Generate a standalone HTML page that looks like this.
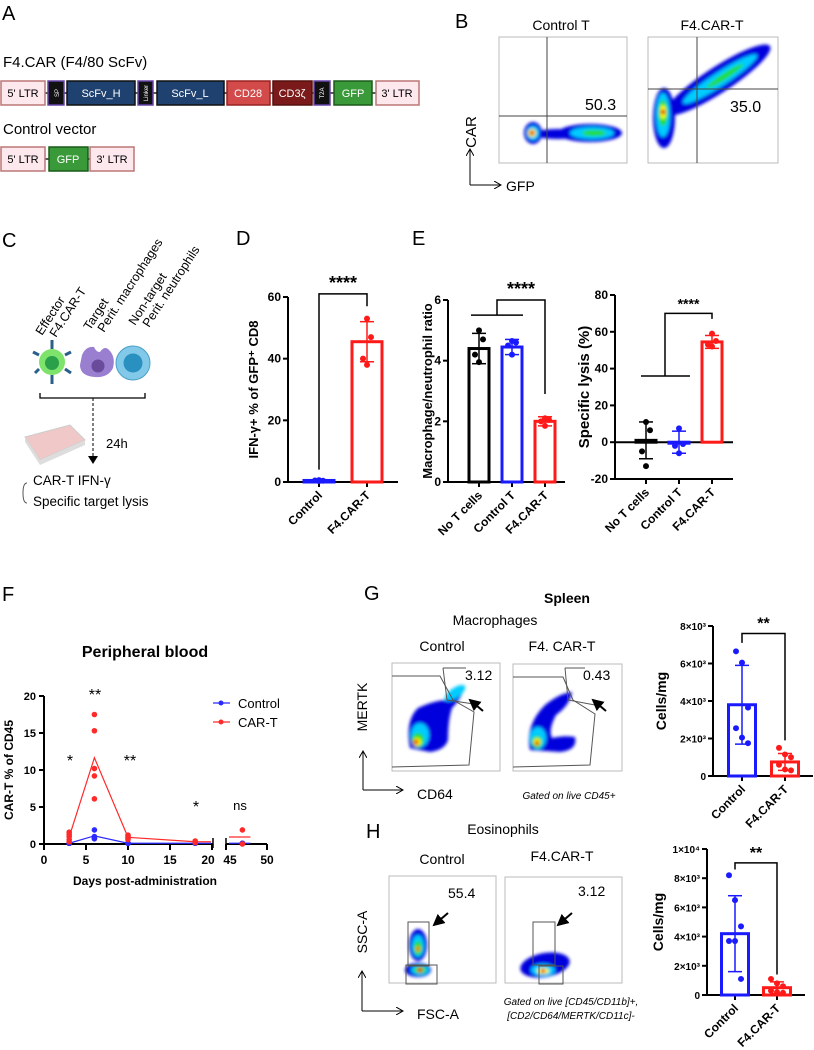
<!DOCTYPE html>
<html><head><meta charset="utf-8"><style>
body{margin:0;background:#fff;}
svg{display:block;font-family:"Liberation Sans",sans-serif;}
.b{font-weight:bold}
</style></head><body>
<svg id="fig" width="814" height="1050" viewBox="0 0 814 1050" xmlns="http://www.w3.org/2000/svg">
<defs>
<filter id="bl" x="-30%" y="-30%" width="160%" height="160%"><feGaussianBlur stdDeviation="1.5"/></filter>
<marker id="ah" markerWidth="8" markerHeight="8" refX="6" refY="4" orient="auto"><path d="M0,0 L7,4 L0,8" fill="none" stroke="#000"/></marker>
<marker id="ahf" markerWidth="6" markerHeight="6" refX="5" refY="3" orient="auto"><path d="M0,0 L6,3 L0,6z" fill="#000"/></marker>
</defs>

<!-- Panel A -->
<g>
<text x="2" y="20" font-size="20">A</text>
<text x="3" y="67" font-size="15">F4.CAR (F4/80 ScFv)</text>
<line x1="2" y1="93" x2="418" y2="93" stroke="#222" stroke-width="1.5"/>
<g font-size="11" text-anchor="middle">
<rect x="1" y="81" width="44" height="24" fill="#fde8ee" stroke="#b77" stroke-width="1.5"/><text x="23" y="97">5' LTR</text>
<rect x="48" y="81" width="16" height="24" fill="#111" stroke="#64a" stroke-width="1.5"/><text x="56" y="96" fill="#fff" font-size="6" transform="rotate(-90 56 93)">SP</text>
<rect x="67" y="81" width="68" height="24" fill="#1f4170" stroke="#111" stroke-width="1.5"/><text x="101" y="97" fill="#fff">ScFv_H</text>
<rect x="138" y="81" width="15" height="24" fill="#111" stroke="#64a" stroke-width="1.5"/><text x="146" y="95" fill="#fff" font-size="6" transform="rotate(-90 146 93)">Linker</text>
<rect x="157" y="81" width="67" height="24" fill="#1f4170" stroke="#111" stroke-width="1.5"/><text x="190" y="97" fill="#fff">ScFv_L</text>
<rect x="227" y="81" width="43" height="24" fill="#d24a4a" stroke="#922" stroke-width="1.5"/><text x="248" y="97" fill="#fff">CD28</text>
<rect x="273" y="81" width="39" height="24" fill="#7a1a1a" stroke="#511" stroke-width="1.5"/><text x="292" y="97" fill="#fff">CD3ζ</text>
<rect x="314" y="81" width="16" height="24" fill="#111" stroke="#64a" stroke-width="1.5"/><text x="322" y="95" fill="#fff" font-size="6" transform="rotate(-90 322 93)">T2A</text>
<rect x="334" y="81" width="38" height="24" fill="#3a9a3a" stroke="#1a5a1a" stroke-width="1.5"/><text x="353" y="97" fill="#fff">GFP</text>
<rect x="376" y="81" width="43" height="24" fill="#fde8ee" stroke="#b77" stroke-width="1.5"/><text x="397" y="97">3' LTR</text>
</g>
<text x="3" y="134" font-size="15">Control vector</text>
<line x1="2" y1="159" x2="133" y2="159" stroke="#222" stroke-width="1.5"/>
<g font-size="11" text-anchor="middle">
<rect x="1" y="147" width="44" height="24" fill="#fde8ee" stroke="#b77" stroke-width="1.5"/><text x="23" y="163">5' LTR</text>
<rect x="49" y="147" width="39" height="24" fill="#3a9a3a" stroke="#1a5a1a" stroke-width="1.5"/><text x="68" y="163" fill="#fff">GFP</text>
<rect x="90" y="147" width="44" height="24" fill="#fde8ee" stroke="#b77" stroke-width="1.5"/><text x="112" y="163">3' LTR</text>
</g>
</g>

<!-- Panel B -->
<g>
<text x="455" y="28" font-size="20">B</text>
<text x="561" y="30" font-size="14" text-anchor="middle">Control T</text>
<text x="712" y="30" font-size="14" text-anchor="middle">F4.CAR-T</text>
<rect x="499" y="37" width="128" height="126" fill="#fff" stroke="#bbb"/>
<rect x="648" y="37" width="130" height="126" fill="#fff" stroke="#bbb"/>
<g filter="url(#bl)">
<ellipse cx="533" cy="133" rx="9" ry="11" fill="#00d"/><ellipse cx="558" cy="134" rx="25" ry="5" fill="#00d"/><ellipse cx="590" cy="133" rx="32" ry="9" fill="#00d"/>
<ellipse cx="592" cy="133" rx="22" ry="6" fill="#0cf"/><ellipse cx="594" cy="133" rx="12" ry="3" fill="#2d2"/>
<ellipse cx="533" cy="133" rx="6" ry="7" fill="#0cf"/><circle cx="532" cy="133" r="4" fill="#ff0"/><circle cx="532" cy="133" r="2.5" fill="#e00"/>
<ellipse cx="718" cy="80" rx="62" ry="13" fill="#00d" transform="rotate(-33 718 80)"/>
<ellipse cx="664" cy="118" rx="11" ry="30" fill="#00d"/>
<ellipse cx="720" cy="79" rx="44" ry="7" fill="#0cf" transform="rotate(-33 720 79)"/>
<ellipse cx="725" cy="76" rx="22" ry="3" fill="#2d2" transform="rotate(-33 725 76)"/>
<ellipse cx="663" cy="115" rx="7" ry="22" fill="#0cf"/><ellipse cx="663" cy="113" rx="4.5" ry="13" fill="#2d2"/>
<ellipse cx="663" cy="112" rx="3" ry="7" fill="#ff0"/><circle cx="663" cy="112" r="2.5" fill="#e00"/>
</g>
<line x1="547" y1="37" x2="547" y2="163" stroke="#444"/><line x1="499" y1="116" x2="627" y2="116" stroke="#444"/>
<line x1="697" y1="37" x2="697" y2="163" stroke="#444"/><line x1="648" y1="89" x2="778" y2="89" stroke="#444"/>
<text x="585" y="110" font-size="16">50.3</text>
<text x="730" y="112" font-size="16">35.0</text>
<text x="476" y="132" font-size="15" text-anchor="middle" transform="rotate(-90 476 132)">CAR</text>
<path d="M470,185 L500,185" fill="none" stroke="#000" marker-end="url(#ah)"/>
<path d="M470,185 L470,150" fill="none" stroke="#000" marker-end="url(#ah)"/>
<text x="506" y="191" font-size="14">GFP</text>
</g>

<!-- Panel C -->
<g>
<text x="2" y="247" font-size="20">C</text>
<g font-size="12.5">
<text transform="translate(42,336) rotate(-57)">Effector</text>
<text transform="translate(56,338) rotate(-57)">F4.CAR-T</text>
<text transform="translate(90,331) rotate(-57)">Target</text>
<text transform="translate(104,333) rotate(-57)">Perit. macrophages</text>
<text transform="translate(135,326) rotate(-57)">Non-target</text>
<text transform="translate(149,328) rotate(-57)">Perit. neutrophils</text>
</g>
<g>
<g stroke="#2a5f8a" stroke-width="3"><line x1="52" y1="349" x2="52" y2="340"/><line x1="52" y1="375" x2="52" y2="384"/><line x1="39" y1="355" x2="33" y2="352"/><line x1="65" y1="355" x2="71" y2="352"/><line x1="65" y1="369" x2="71" y2="373"/><line x1="39" y1="369" x2="35" y2="373"/></g>
<circle cx="52" cy="362" r="13" fill="#7de36a"/><circle cx="52" cy="363" r="7" fill="#2aa04a"/></g>
<path d="M82,355 Q86,346 94,347 Q96,352 100,352 Q104,346 108,349 Q116,356 113,368 Q108,378 95,377 Q80,376 80,365 Z" fill="#9a7ed0"/>
<circle cx="98" cy="366" r="6.5" fill="#6a4a9a"/>
<circle cx="133" cy="363" r="17" fill="#82c8e8" stroke="#4aa0c8"/><circle cx="133" cy="363" r="9.5" fill="#2a90c0"/>
<path d="M40,393 L40,398 L145,398 L145,393" fill="none" stroke="#000" stroke-width="1.3"/>
<line x1="93" y1="398" x2="93" y2="457" stroke="#000" stroke-dasharray="3,2"/>
<path d="M88,456 L98,456 L93,464 Z" fill="#000"/>
<path d="M25,437 L70,425 L85,440 L40,460 Z" fill="#f0c8c8" stroke="#ccc"/>
<path d="M25,437 L25,442 L40,465 L85,445 L85,440 L40,460 Z" fill="#ddd"/>
<text x="106" y="448" font-size="13">24h</text>
<path d="M27,483 Q23,483 23,493 Q23,503 27,503" fill="none" stroke="#555"/>
<text x="33" y="485" font-size="13.5">CAR-T IFN-γ</text>
<text x="33" y="506" font-size="13.5">Specific target lysis</text>
</g>

<text x="236" y="245" font-size="20">D</text>
<text x="412" y="245" font-size="20">E</text>
<text x="2" y="601" font-size="20">F</text>
<text x="364" y="600" font-size="20">G</text>
<text x="366" y="838" font-size="20">H</text>

<!-- Panel G/H flow -->
<g>
<text x="567" y="603" font-size="14" class="b" text-anchor="middle">Spleen</text>
<text x="495" y="625" font-size="14" text-anchor="middle">Macrophages</text>
<text x="442" y="651" font-size="14" text-anchor="middle">Control</text>
<text x="562" y="651" font-size="14" text-anchor="middle">F4. CAR-T</text>
<rect x="392" y="663" width="108" height="108" fill="#fff" stroke="#bbb"/>
<rect x="513" y="664" width="109" height="107" fill="#fff" stroke="#bbb"/>
<g filter="url(#bl)">
<path d="M410,748 Q405,720 418,708 Q435,700 448,700 Q455,690 465,685 Q462,698 452,708 Q448,720 448,740 Q445,750 430,752 Z" fill="#00d"/>
<ellipse cx="455" cy="693" rx="12" ry="5" fill="#0cf" transform="rotate(-35 455 693)"/>
<ellipse cx="420" cy="735" rx="9" ry="12" fill="#0cf"/><ellipse cx="418" cy="740" rx="6" ry="7" fill="#2d2"/><circle cx="417" cy="742" r="4" fill="#ff0"/><circle cx="416" cy="742" r="2.5" fill="#e00"/>
<path d="M530,750 Q525,725 545,705 Q560,693 572,692 Q570,705 556,715 Q548,730 552,738 Q565,735 575,737 Q578,750 560,752 Z" fill="#00d"/>
<ellipse cx="538" cy="738" rx="8" ry="11" fill="#0cf"/><ellipse cx="537" cy="742" rx="5" ry="6" fill="#2d2"/><circle cx="537" cy="742" r="3.5" fill="#ff0"/><circle cx="537" cy="743" r="2.2" fill="#e00"/>
</g>
<path d="M392,676 L440,676 L453,700 L474,712 L469,765 L392,767" fill="none" stroke="#555"/>
<path d="M443,668 L466,668 M443,668 L447,700 L474,704" fill="none" stroke="#555"/>
<path d="M513,677 L563,677 L573,700 L595,714 L590,765 L513,767" fill="none" stroke="#555"/>
<path d="M565,668 L585,668 M565,668 L568,700 L595,705" fill="none" stroke="#555"/>
<text x="465" y="680" font-size="14">3.12</text>
<text x="583" y="680" font-size="14">0.43</text>
<line x1="483" y1="711" x2="470" y2="700" stroke="#000" stroke-width="2" marker-end="url(#ahf)"/>
<line x1="606" y1="711" x2="593" y2="700" stroke="#000" stroke-width="2" marker-end="url(#ahf)"/>
<text x="367" y="707" font-size="14" text-anchor="middle" transform="rotate(-90 367 707)">MERTK</text>
<path d="M363,790 L402,790" fill="none" stroke="#000" marker-end="url(#ah)"/>
<path d="M363,790 L363,752" fill="none" stroke="#000" marker-end="url(#ah)"/>
<text x="417" y="799" font-size="14">CD64</text>
<text x="569" y="799" font-size="10" font-style="italic" text-anchor="middle">Gated on live CD45+</text>
</g>
<g>
<text x="503" y="834" font-size="14" text-anchor="middle">Eosinophils</text>
<text x="442" y="864" font-size="14" text-anchor="middle">Control</text>
<text x="562" y="861" font-size="14" text-anchor="middle">F4.CAR-T</text>
<rect x="389" y="876" width="107" height="107" fill="#fff" stroke="#bbb"/>
<rect x="505" y="877" width="117" height="106" fill="#fff" stroke="#bbb"/>
<g filter="url(#bl)">
<ellipse cx="418" cy="945" rx="9" ry="16" fill="#00d"/><ellipse cx="418" cy="970" rx="13" ry="7" fill="#00d"/>
<ellipse cx="418" cy="946" rx="6" ry="11" fill="#0cf"/>
<ellipse cx="418" cy="948" rx="4" ry="7" fill="#2d2"/><circle cx="418" cy="949" r="2.5" fill="#e80"/>
<ellipse cx="420" cy="970" rx="9" ry="5" fill="#0cf"/>
<ellipse cx="420" cy="970" rx="6" ry="3.5" fill="#2d2"/><circle cx="420" cy="970" r="2.5" fill="#e00"/>
<ellipse cx="545" cy="965" rx="25" ry="12" fill="#00d" transform="rotate(-10 545 965)"/>
<ellipse cx="543" cy="970" rx="12" ry="6" fill="#0cf"/><ellipse cx="543" cy="971" rx="6" ry="3" fill="#ff0"/><circle cx="543" cy="971" r="2.2" fill="#e00"/>
</g>
<rect x="408" y="922" width="21" height="44" fill="none" stroke="#555"/><rect x="406" y="965" width="31" height="19" fill="none" stroke="#555"/>
<rect x="533" y="922" width="22" height="43" fill="none" stroke="#555"/><rect x="539" y="966" width="24" height="18" fill="none" stroke="#555"/>
<text x="448" y="898" font-size="14">55.4</text>
<text x="578" y="896" font-size="14">3.12</text>
<line x1="448" y1="913" x2="434" y2="925" stroke="#000" stroke-width="2" marker-end="url(#ahf)"/>
<line x1="572" y1="913" x2="558" y2="925" stroke="#000" stroke-width="2" marker-end="url(#ahf)"/>
<text x="367" y="932" font-size="14" text-anchor="middle" transform="rotate(-90 367 932)">SSC-A</text>
<path d="M362,1011 L402,1011" fill="none" stroke="#000" marker-end="url(#ah)"/>
<path d="M362,1011 L362,972" fill="none" stroke="#000" marker-end="url(#ah)"/>
<text x="417" y="1019" font-size="14">FSC-A</text>
<text x="571" y="1005" font-size="10" font-style="italic" text-anchor="middle">Gated on live [CD45/CD11b]+,</text>
<text x="571" y="1019" font-size="10" font-style="italic" text-anchor="middle">[CD2/CD64/MERTK/CD11c]-</text>
</g>

<g id="charts"></g>
</svg>
<script>
// Panel D
const dCats=["Control","F4.CAR-T"];
const dMeans=[0.5,45.5];
const dSD=[0.2,6.5];
const dPoints=[[0.3,0.4,0.5,0.6],[53,47,40,38]];
const dTicks=[0,20,40,60];
// Panel E left
const e1Cats=["No T cells","Control T","F4.CAR-T"];
const e1Means=[4.4,4.45,2.0];
const e1SD=[0.5,0.25,0.15];
const e1Points=[[5.0,4.7,4.2,3.95],[4.65,4.6,4.5,4.2],[2.1,2.05,2.0,1.85]];
const e1Ticks=[0,2,4,6];
// Panel E right
const e2Cats=["No T cells","Control T","F4.CAR-T"];
const e2Means=[1,0,54.5];
const e2SD=[10,6,3.5];
const e2Points=[[11,6.5,-5,-13],[7.5,-1,-2,-6],[59,55,53,52]];
const e2Ticks=[-20,0,20,40,60,80];
// Panel G
const gCats=["Control","F4.CAR-T"];
const gMeans=[3800,750];
const gSD=[2100,450];
const gPoints=[[6650,6050,3650,2550,2050,1750],[1500,1150,1000,600,350,300]];
const gTicks=[0,2000,4000,6000,8000];
const gTickLabels=["0","2×10³","4×10³","6×10³","8×10³"];
// Panel H
const hCats=["Control","F4.CAR-T"];
const hMeans=[4200,500];
const hSD=[2600,400];
const hPoints=[[8200,6500,4700,3700,3700,1100],[1100,800,600,300,200,150]];
const hTicks=[0,2000,4000,6000,8000,10000];
const hTickLabels=["0","2×10³","4×10³","6×10³","8×10³","1×10⁴"];
// Panel F
const fDays=[3,6,10,18,47];
const fControlPts=[[0.1,0.1,0.1,0.1,0.1],[1.9,1.0,0.8,0.7],[0.1,0.1,0.1,0.1],[0.1,0.1],[0.1,0.1]];
const fCarPts=[[1.6,1.3,1.0,0.6,0.3],[17.5,15.3,10.2,9.2,6.1],[1.2,1.0,0.8,0.6],[0.4,0.2],[1.9,0]];
const fTicks=[0,5,10,15,20];
const fXTicksA=[0,5,10,15,20];
const fXTicksB=[45,50];

const NS="http://www.w3.org/2000/svg";
const root=document.getElementById('charts');
function el(tag,attrs,parent,txt){const e=document.createElementNS(NS,tag);for(const k in attrs)e.setAttribute(k,attrs[k]);if(txt!==undefined)e.textContent=txt;(parent||root).appendChild(e);return e;}
const COLS={"Control":"#1a1aff","Control T":"#1a1aff","No T cells":"#000","F4.CAR-T":"#ff1a1a"};
function mean(a){return a.reduce((s,v)=>s+v,0)/a.length;}

function barChart(name,cfg,cats,means,sd,pts,ticks,tickLabels,g){
  const grp=el('g',{},root);
  
  
  const y=v=>cfg.y0+(v-cfg.vmin)/(cfg.vmax-cfg.vmin)*(cfg.yTop-cfg.y0);
  const ax=el('line',{x1:cfg.ax,y1:y(cfg.vmin),x2:cfg.ax,y2:y(cfg.vmax),stroke:'#000','stroke-width':2},grp);
  
  
  ticks.forEach((t,i)=>{
    el('line',{x1:cfg.ax-5,y1:y(t),x2:cfg.ax,y2:y(t),stroke:'#000','stroke-width':2},grp);
    const tl=el('text',{x:cfg.ax-7,y:y(t)+4,'font-size':cfg.tfs||12,'font-weight':'bold','text-anchor':'end'},grp,tickLabels?tickLabels[i]:String(t));
    
    
  });
  const xl=el('line',{x1:cfg.ax,y1:y(cfg.xAxisAt),x2:cfg.xEnd,y2:y(cfg.xAxisAt),stroke:'#000','stroke-width':2},grp);
  
  
  if(cfg.zeroLine){el('line',{x1:cfg.ax,y1:y(0),x2:cfg.xEnd,y2:y(0),stroke:'#000','stroke-width':2},grp);}
  const yl=el('text',{x:cfg.ylx,y:(y(cfg.vmin)+y(cfg.vmax))/2,'font-size':cfg.ylfs||13,'font-weight':'bold','text-anchor':'middle',transform:`rotate(-90 ${cfg.ylx} ${(y(cfg.vmin)+y(cfg.vmax))/2})`},grp,cfg.ylabel);
  
  
  const base=cfg.zeroLine?0:cfg.vmin;
  cats.forEach((c,i)=>{
    const cx=cfg.centers[i],col=COLS[c];
    el('line',{x1:cx,y1:y(cfg.xAxisAt),x2:cx,y2:y(cfg.xAxisAt)+5,stroke:'#000','stroke-width':2},grp);
    const top=y(means[i]),b=y(base);
    const bar=el('rect',{x:cx-cfg.bw/2,y:Math.min(top,b),width:cfg.bw,height:Math.max(1,Math.abs(b-top)),fill:'none',stroke:col,'stroke-width':cfg.sw||3},grp);
    
    
    el('line',{x1:cx,y1:y(means[i]+sd[i]),x2:cx,y2:y(means[i]-sd[i]),stroke:col,'stroke-width':1.5},grp);
    el('line',{x1:cx-7,y1:y(means[i]+sd[i]),x2:cx+7,y2:y(means[i]+sd[i]),stroke:col,'stroke-width':1.5},grp);
    el('line',{x1:cx-7,y1:y(means[i]-sd[i]),x2:cx+7,y2:y(means[i]-sd[i]),stroke:col,'stroke-width':1.5},grp);
    const n=pts[i].length;
    pts[i].forEach((v,j)=>{
      const off=(n>4)?((j%3)-1)*6:((j%2)?4:-4)*(j%3===0?0:1);
      const d=el('circle',{cx:cx+off,cy:y(v),r:3,fill:col},grp);
      
      
    });
    const lx=cx+4,ly=y(cfg.xAxisAt)+14;
    const t=el('text',{x:lx,y:ly,'font-size':12,'font-weight':'bold','text-anchor':'end',transform:`rotate(-45 ${lx} ${ly})`},grp,c);
    
    
  });
  if(g) g(grp,y);
  return y;
}
function bracket(grp,x1,x2,ytop,yl1,yl2,stars,fs){
  el('path',{d:`M${x1},${yl1} L${x1},${ytop} L${x2},${ytop} L${x2},${yl2}`,fill:'none',stroke:'#000','stroke-width':1.5},grp);
  const s=el('text',{x:(x1+x2)/2,y:ytop-5,'font-size':fs||16,'font-weight':'bold','text-anchor':'middle'},grp,stars);
  
  
}

barChart('chart-d-ifn',{ax:288,y0:482,yTop:297,vmin:0,vmax:60,xAxisAt:0,xEnd:398,centers:[319,367],bw:30,ylx:258,ylabel:'IFN-γ+ % of GFP⁺ CD8',ylfs:13},
 dCats,dMeans,dSD,dPoints,dTicks,null,(g,y)=>bracket(g,319,367,y(61),y(4),y(57),'****',18));
barChart('chart-e-ratio',{ax:448,y0:482,yTop:300,vmin:0,vmax:6,xAxisAt:0,xEnd:565,centers:[479,512,545],bw:20,ylx:432,ylabel:'Macrophage/neutrophil ratio',ylfs:13},
 e1Cats,e1Means,e1SD,e1Points,e1Ticks,null,(g,y)=>{
  el('line',{x1:471,y1:y(5.5),x2:523,y2:y(5.5),stroke:'#000','stroke-width':1.5},g);
  bracket(g,497,545,y(6),y(5.5),y(2.9),'****',18);});
barChart('chart-e-lysis',{ax:615,y0:479,yTop:295,vmin:-20,vmax:80,xAxisAt:-20,xEnd:733,centers:[646,679,712],bw:20,ylx:589,ylabel:'Specific lysis (%)',ylfs:15,zeroLine:true},
 e2Cats,e2Means,e2SD,e2Points,e2Ticks,null,(g,y)=>{
  el('line',{x1:641,y1:y(36),x2:690,y2:y(36),stroke:'#000','stroke-width':1.5},g);
  bracket(g,665,712,y(70),y(36),y(67),'****',14);});
barChart('chart-g-macrophages',{ax:713,y0:776,yTop:626,vmin:0,vmax:8000,xAxisAt:0,xEnd:813,centers:[742,785],bw:27,ylx:666,ylabel:'Cells/mg',ylfs:14,tfs:10},
 gCats,gMeans,gSD,gPoints,gTicks,gTickLabels,(g,y)=>bracket(g,742,785,y(7600),y(7100),y(1900),'**',16));
barChart('chart-h-eosinophils',{ax:707,y0:995,yTop:849,vmin:0,vmax:10000,xAxisAt:0,xEnd:805,centers:[735,777],bw:27,ylx:663,ylabel:'Cells/mg',ylfs:14,tfs:10},
 hCats,hMeans,hSD,hPoints,hTicks,hTickLabels,(g,y)=>bracket(g,735,777,y(9050),y(8600),y(1400),'**',16));

// Panel F
(function(){
  const g=el('g',{},root);
  
  
  const y=v=>844+(v/20)*(696-844);
  const x=d=>d<=20?44+d*8.4:226+(d-45)*8.2;
  const tt=el('text',{x:145,y:657,'font-size':16,'font-weight':'bold','text-anchor':'middle'},g,'Peripheral blood');
  
  
  el('line',{x1:44,y1:696,x2:44,y2:844,stroke:'#000','stroke-width':2},g);
  fTicks.forEach(t=>{el('line',{x1:39,y1:y(t),x2:44,y2:y(t),stroke:'#000','stroke-width':2},g);
    const l=el('text',{x:36,y:y(t)+4,'font-size':11,'font-weight':'bold','text-anchor':'end'},g,String(t));
    
    });
  el('line',{x1:44,y1:844,x2:213,y2:844,stroke:'#000','stroke-width':2},g);
  el('line',{x1:226,y1:844,x2:267,y2:844,stroke:'#000','stroke-width':2},g);
  el('line',{x1:213,y1:838,x2:213,y2:848,stroke:'#000','stroke-width':1.5},g);
  el('line',{x1:226,y1:838,x2:226,y2:848,stroke:'#000','stroke-width':1.5},g);
  fXTicksA.concat(fXTicksB).forEach(t=>{el('line',{x1:x(t),y1:844,x2:x(t),y2:850,stroke:'#000','stroke-width':2},g);
    const l=el('text',{x:x(t)+(t===20?-4:t===45?4:0),y:864,'font-size':12,'font-weight':'bold','text-anchor':'middle'},g,String(t));
    
    });
  const xt=el('text',{x:145,y:885,'font-size':12,'font-weight':'bold','text-anchor':'middle'},g,'Days post-administration');
  
  
  const yt=el('text',{x:13,y:770,'font-size':12,'font-weight':'bold','text-anchor':'middle',transform:'rotate(-90 13 770)'},g,'CAR-T % of CD45');
  
  
  [[fControlPts,'#2a2aff','control'],[fCarPts,'#ff2a2a','car-t']].forEach(([pts,col,nm])=>{
    const m=pts.map(mean);
    const p1=fDays.slice(0,4).map((d,i)=>`${x(d)},${y(m[i])}`).join(' ');
    const ln=el('polyline',{points:p1,fill:'none',stroke:col,'stroke-width':1.2},g);
    
    
    el('line',{x1:x(fDays[3]),y1:y(m[3]),x2:211,y2:y(m[3]),stroke:col,'stroke-width':1.2},g);
    el('line',{x1:229,y1:y(m[4]),x2:x(fDays[4])+8,y2:y(m[4]),stroke:col,'stroke-width':1.2},g);
    pts.forEach((arr,i)=>arr.forEach(v=>{const c=el('circle',{cx:x(fDays[i]),cy:y(v),r:2.8,fill:col},g);
      
      }));
  });
  [['**',95,700],['*',70,766],['**',130,766],['*',196,812],['ns',240,810]].forEach(s=>{
    const t=el('text',{x:s[1],y:s[2],'font-size':s[0]==='ns'?13:16,'text-anchor':'middle'},g,s[0]);
    
    });
  [['Control','#2a2aff',703],['CAR-T','#ff2a2a',722]].forEach(l=>{
    const lg=el('g',{},g);
    
    
    el('line',{x1:213,y1:l[2],x2:230,y2:l[2],stroke:l[1],'stroke-width':1.2},lg);
    el('circle',{cx:221,cy:l[2],r:2.5,fill:l[1]},lg);
    el('text',{x:238,y:l[2]+5,'font-size':13},lg,l[0]);
  });
})();
</script>
</body></html>
